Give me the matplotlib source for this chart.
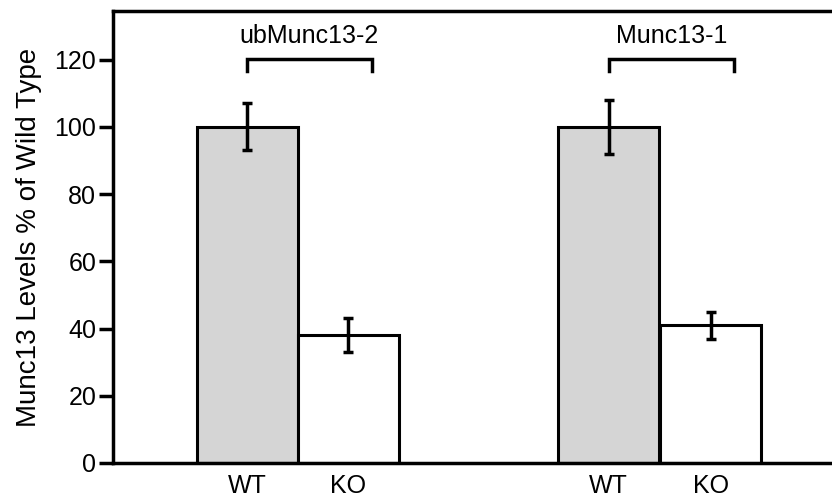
import matplotlib
matplotlib.use('Agg')
import matplotlib.pyplot as plt

# values
groups = ['ubMunc13-2', 'Munc13-1']
genotypes = ['WT', 'KO']
positions = [0.0, 1.0, 3.58, 4.59]
levels = [100, 38, 100, 41]
errors = [7, 5, 8, 4]
colors = ['#d5d5d5', 'white', '#d5d5d5', 'white']
tick_labels = ['WT', 'KO', 'WT', 'KO']

plt.rcParams['font.family'] = ['Liberation Sans', 'DejaVu Sans']

fig = plt.figure(figsize=(8.32, 4.99), dpi=100)
ax = fig.add_axes([113/832, 1 - 463/499, 1 - 113/832, (463 - 11)/499])

ax.bar(positions, levels, width=1.0, color=colors, edgecolor='black', linewidth=2.2, zorder=2)
ax.errorbar(positions, levels, yerr=errors, fmt='none', ecolor='black',
            elinewidth=2.5, capsize=3.4, capthick=2.5, zorder=3)

# brackets over each pair
for i, name in enumerate(groups):
    x0 = positions[2*i]
    x1 = positions[2*i + 1] + 0.23
    ax.plot([x0, x0, x1, x1], [116.5, 120.2, 120.2, 116.5], color='black', lw=2.5,
            solid_joinstyle='miter', clip_on=False)
    ax.text((x0 + x1) / 2, 123.5, name, ha='center', va='bottom', fontsize=18)

ax.set_xlim(-1.33, 5.79)
ax.set_ylim(0, 134.5)
ax.set_yticks(range(0, 121, 20))
ax.set_xticks(positions)
ax.set_xticklabels(tick_labels)
ax.tick_params(axis='y', direction='out', length=10, width=2.5, labelsize=18, pad=2)
ax.tick_params(axis='x', length=0, labelsize=18, pad=8)
ax.set_ylabel('Munc13 Levels % of Wild Type', fontsize=20, labelpad=9)

for s in ['left', 'bottom', 'top']:
    ax.spines[s].set_linewidth(2.5)
ax.spines['right'].set_visible(False)

fig.savefig('out.png', dpi=100)
